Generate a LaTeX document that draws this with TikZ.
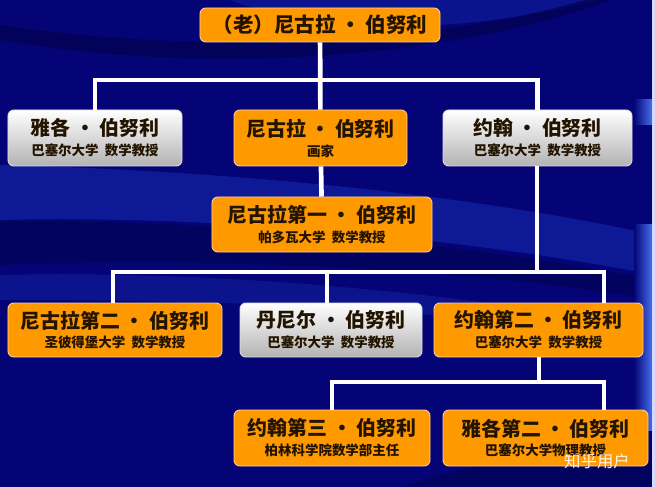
\documentclass[tikz,border=0pt]{standalone}
\usepackage{fontspec}
\newfontfamily\cjk{Noto Sans CJK SC}
\definecolor{bgnavy}{RGB}{4,4,118}
\definecolor{bgdark}{RGB}{2,2,80}
\definecolor{bglight}{RGB}{22,40,170}
\definecolor{glowblue}{RGB}{70,110,235}
\definecolor{boxorange}{RGB}{255,153,0}
\definecolor{inkbrown}{RGB}{35,20,0}
\newcommand{\who}[2]{{\fontsize{17}{20}\selectfont #1}\\[5pt]{\fontsize{11.5}{14}\selectfont #2}}
\tikzset{
  person/.style={rectangle, rounded corners=5pt, line width=0.8pt, align=center,
    text=inkbrown, font=\cjk\bfseries, inner sep=2pt, minimum height=1.68cm},
  orangebox/.style={person, fill=boxorange, draw=orange!40!white},
  graybox/.style={person, top color=white, bottom color=gray!60, draw=gray!25},
  link/.style={draw=white, line width=4pt},
}
\begin{document}
\begin{tikzpicture}[x=0.03cm, y=-0.03cm]
    \useasboundingbox (0,0) rectangle (655,487);
    % 背景
    \fill[bgnavy] (0,0) rectangle (655,487);
    \fill[bglight, opacity=0.45] (230,0) .. controls (330,40) and (480,30) .. (600,0) -- cycle;
    \fill[bgdark, opacity=0.7] (0,40) .. controls (200,75) and (450,60) .. (610,0) -- (585,0) .. controls (430,45) and (200,55) .. (0,25) -- cycle;
    \fill[bglight, opacity=0.6] (0,165) .. controls (200,170) and (450,190) .. (655,235) -- (655,275) .. controls (450,235) and (200,215) .. (0,220) -- cycle;
    \fill[bgdark, opacity=0.6] (0,222) .. controls (200,218) and (450,240) .. (655,280) -- (655,300) .. controls (450,265) and (200,258) .. (0,265) -- cycle;
    \fill[bglight, opacity=0.45] (0,275) .. controls (200,270) and (450,290) .. (655,330) -- (655,345) .. controls (450,305) and (200,300) .. (0,300) -- cycle;
    \fill[bgdark, opacity=0.6] (400,487) .. controls (500,460) and (600,430) .. (655,400) -- (655,487) -- cycle;
    \shade[left color=bgnavy, right color=glowblue] (634,100) rectangle (652,125);
    \shade[left color=bgnavy, right color=glowblue] (634,225) rectangle (652,430);
    \fill[blue!15!white] (652,0) rectangle (655,487);

    % 人物
    \node[orangebox, minimum width=7.2cm, minimum height=1.02cm] (laonikola) at (320,25)
        {\fontsize{17.5}{20}\selectfont （老）尼古拉 • 伯努利};
    \node[graybox, minimum width=5.22cm] (yage) at (95,138) {\who{雅各 • 伯努利}{巴塞尔大学\ \ 数学教授}};
    \node[orangebox, minimum width=5.19cm] (nikola) at (320.5,138) {\who{尼古拉 • 伯努利}{画家}};
    \node[graybox, minimum width=5.67cm] (yuehan) at (537.5,138) {\who{约翰 • 伯努利}{巴塞尔大学\ \ 数学教授}};
    \node[orangebox, minimum width=6.6cm, minimum height=1.65cm] (nikola1) at (322,224.5)
        {\who{尼古拉第一 • 伯努利}{帕多瓦大学\ \ 数学教授}};
    \node[orangebox, minimum width=6.42cm, minimum height=1.62cm] (nikola2) at (115,330)
        {\who{尼古拉第二 • 伯努利}{圣彼得堡大学\ \ 数学教授}};
    \node[graybox, minimum width=5.46cm, minimum height=1.62cm] (daniel) at (331,330)
        {\who{丹尼尔 • 伯努利}{巴塞尔大学\ \ 数学教授}};
    \node[orangebox, minimum width=6.27cm, minimum height=1.62cm] (yuehan2) at (538.5,330)
        {\who{约翰第二 • 伯努利}{巴塞尔大学\ \ 数学教授}};
    \node[orangebox, minimum width=5.88cm] (yuehan3) at (332,438)
        {\who{约翰第三 • 伯努利}{柏林科学院数学部主任}};
    \node[orangebox, minimum width=6.15cm] (yage2) at (545.5,438)
        {\who{雅各第二 • 伯努利}{巴塞尔大学物理教授}};

    % 连线
    \coordinate (j1) at (320,80);
    \coordinate (j2) at (537,272);
    \coordinate (j2l) at (113,272);
    \coordinate (j2r) at (604,272);
    \coordinate (j3) at (539,382);
    \coordinate (j3r) at (604,382);
    \draw[link] (laonikola) -- (nikola);
    \draw[link] (yage.north) |- (j1) -| (yuehan.north);
    \draw[link] (nikola) -- (nikola1);
    \draw[link] (yuehan.south -| j2) -- (j2);
    \draw[link] (j2l |- nikola2.north) -- (j2l) -- (j2r) -- (j2r |- yuehan2.north);
    \draw[link] (j2l -| daniel.north) ++(-4,0) -- ++(0,31);
    \draw[link] (yuehan2.south -| j3) -- (j3);
    \draw[link] (yuehan3.north) |- (j3r) -- (j3r |- yage2.north);

    % 水印
    \node[white, font=\cjk\fontsize{14}{16}\selectfont, opacity=0.9] (mark) at (597,461) {知乎用户};
\end{tikzpicture}
\end{document}
